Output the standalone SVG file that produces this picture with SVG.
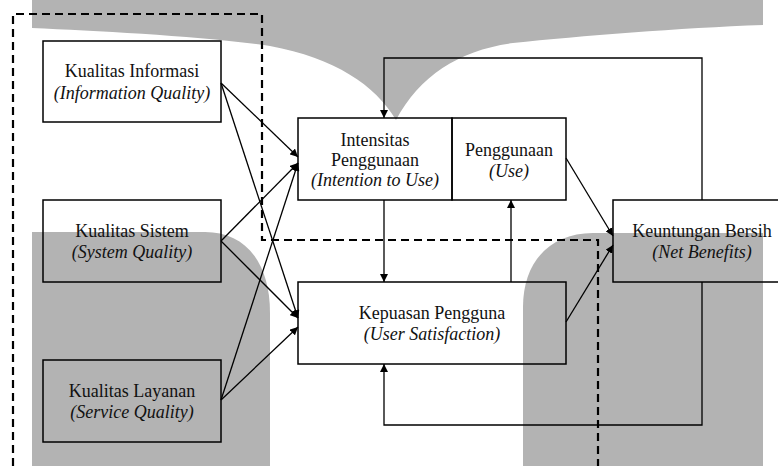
<svg xmlns="http://www.w3.org/2000/svg" width="778" height="466" viewBox="0 0 778 466">
<style>
.wm{fill:#b3b3b3;stroke:none}
.box{fill:none;stroke:#000;stroke-width:1.5}
.t{font-family:'Liberation Serif','Times New Roman','DejaVu Serif',serif;font-size:18px;fill:#111;text-anchor:middle}
.i{font-style:italic}
.c{fill:none;stroke:#000;stroke-width:1.3}
.d{fill:none;stroke:#000;stroke-width:2.2;stroke-dasharray:8 5}
</style>
<defs>
<marker id="ah" viewBox="0 0 10 10" refX="10" refY="5" markerWidth="8" markerHeight="8" markerUnits="userSpaceOnUse" orient="auto">
<path d="M0,0 L10,5 L0,10 Z" fill="#000"/>
</marker>
</defs>
<rect width="778" height="466" fill="#fff"/>
<g id="watermark">
<path class="wm" d="M32,0 H763 V25 C680,28 580,36 513,43 C460,50 420,75 396,120 C375,85 335,58 270,46 C200,36 100,31 32,28 Z"/>
<path class="wm" d="M32,466 V232 H205 C245,232 270,262 270,313 V466 Z"/>
<path class="wm" d="M763,466 V233 H593 C550,233 523,262 523,307 V466 Z"/>
</g>
<g id="boundary">
<path class="d" d="M13,466 V14 H262 V240 H598 V466"/>
</g>
<g id="connectors">
<path class="c" d="M221,83 L298,157" marker-end="url(#ah)"/>
<path class="c" d="M221,83 L298,318" marker-end="url(#ah)"/>
<path class="c" d="M221,241 L298,163" marker-end="url(#ah)"/>
<path class="c" d="M221,241 L298,318" marker-end="url(#ah)"/>
<path class="c" d="M221,400 L298,163" marker-end="url(#ah)"/>
<path class="c" d="M221,400 L298,327" marker-end="url(#ah)"/>
<path class="c" d="M384,200 V282" marker-end="url(#ah)"/>
<path class="c" d="M511,282 V200" marker-end="url(#ah)"/>
<path class="c" d="M566,158 L613,236" marker-end="url(#ah)"/>
<path class="c" d="M566,322 L613,245" marker-end="url(#ah)"/>
<path class="c" d="M702,200 V58 H384 V118" marker-end="url(#ah)"/>
<path class="c" d="M702,282 V425 H384 V364" marker-end="url(#ah)"/>
</g>
<g id="kualitas-informasi">
<rect class="box" x="43" y="41" width="178" height="81"/>
<text class="t" x="132" y="77">Kualitas Informasi</text>
<text class="t i" x="132" y="98.5">(Information Quality)</text>
</g>
<g id="kualitas-sistem">
<rect class="box" x="43" y="200" width="178" height="82"/>
<text class="t" x="132" y="236.5">Kualitas Sistem</text>
<text class="t i" x="132" y="258">(System Quality)</text>
</g>
<g id="kualitas-layanan">
<rect class="box" x="43" y="360" width="178" height="82"/>
<text class="t" x="132" y="396.5">Kualitas Layanan</text>
<text class="t i" x="132" y="418">(Service Quality)</text>
</g>
<g id="intensitas-penggunaan">
<rect class="box" x="298" y="118" width="154" height="82"/>
<text class="t" x="375" y="145.5">Intensitas</text>
<text class="t" x="375" y="165.5">Penggunaan</text>
<text class="t i" x="375" y="186">(Intention to Use)</text>
</g>
<g id="penggunaan">
<rect class="box" x="452" y="118" width="114" height="82"/>
<text class="t" x="509" y="155.5">Penggunaan</text>
<text class="t i" x="509" y="177">(Use)</text>
</g>
<g id="kepuasan-pengguna">
<rect class="box" x="298" y="282" width="268" height="82"/>
<text class="t" x="432" y="318.5">Kepuasan Pengguna</text>
<text class="t i" x="432" y="340">(User Satisfaction)</text>
</g>
<g id="keuntungan-bersih">
<rect class="box" x="613" y="200" width="170" height="82"/>
<text class="t" x="702" y="236.5">Keuntungan Bersih</text>
<text class="t i" x="702" y="258">(Net Benefits)</text>
</g>
</svg>
